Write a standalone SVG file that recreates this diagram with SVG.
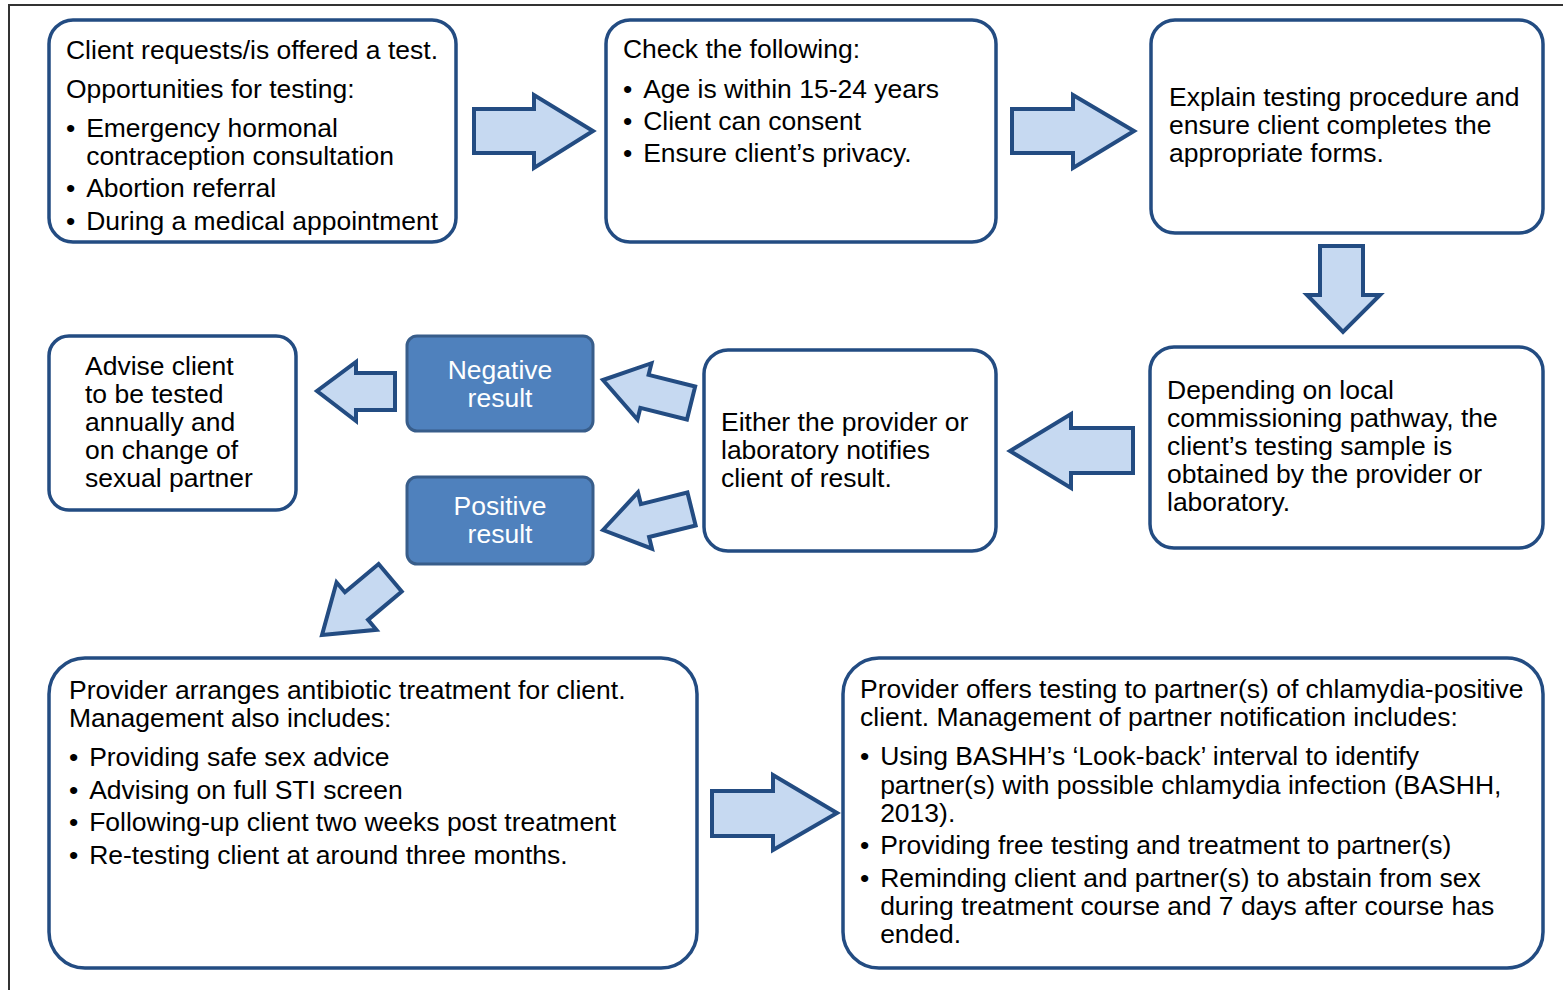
<svg xmlns="http://www.w3.org/2000/svg" width="1563" height="990" viewBox="0 0 1563 990">
  <style>
    .box { fill: #ffffff; stroke: #234C82; stroke-width: 3.5; }
    .res { fill: #4F81BD; stroke: #385D8A; stroke-width: 3; }
    .arr { fill: #C6D9F1; stroke: #234C82; stroke-width: 4; stroke-linejoin: miter; }
    text { font-family: "Liberation Sans", Arial, sans-serif; font-size: 25px; fill: #000000; }
    .w { fill: #ffffff; text-anchor: middle; }
  </style>
  <rect width="1563" height="990" fill="#ffffff"/>
  <!-- page frame -->
  <path d="M9,990 V5 H1563" fill="none" stroke="#333333" stroke-width="2"/>

  <g id="n1">
    <rect class="box" x="49" y="20" width="407" height="222" rx="24"/>
    <g transform="translate(66,0) scale(1.06,1) translate(-66,0)">
      <text x="66" y="59">Client requests/is offered a test.</text>
      <text x="66" y="98">Opportunities for testing:</text>
      <text x="66" y="137">•</text><text x="85" y="137">Emergency hormonal</text>
      <text x="85" y="165">contraception consultation</text>
      <text x="66" y="197">•</text><text x="85" y="197">Abortion referral</text>
      <text x="66" y="230">•</text><text x="85" y="230">During a medical appointment</text>
    </g>
  </g>

  <g id="n2">
    <rect class="box" x="606" y="20" width="390" height="222" rx="24"/>
    <g transform="translate(623,0) scale(1.06,1) translate(-623,0)">
      <text x="623" y="58">Check the following:</text>
      <text x="623" y="98">•</text><text x="642" y="98">Age is within 15-24 years</text>
      <text x="623" y="130">•</text><text x="642" y="130">Client can consent</text>
      <text x="623" y="162">•</text><text x="642" y="162">Ensure client’s privacy.</text>
    </g>
  </g>

  <g id="n3">
    <rect class="box" x="1151" y="20" width="392" height="213" rx="24"/>
    <g transform="translate(1169,0) scale(1.06,1) translate(-1169,0)">
      <text x="1169" y="106">Explain testing procedure and</text>
      <text x="1169" y="134">ensure client completes the</text>
      <text x="1169" y="162">appropriate forms.</text>
    </g>
  </g>

  <g id="n4">
    <rect class="box" x="1150" y="347" width="393" height="201" rx="24"/>
    <g transform="translate(1167,0) scale(1.06,1) translate(-1167,0)">
      <text x="1167" y="399">Depending on local</text>
      <text x="1167" y="427">commissioning pathway, the</text>
      <text x="1167" y="455">client’s testing sample is</text>
      <text x="1167" y="483">obtained by the provider or</text>
      <text x="1167" y="511">laboratory.</text>
    </g>
  </g>

  <g id="n5">
    <rect class="box" x="704" y="350" width="292" height="201" rx="24"/>
    <g transform="translate(721,0) scale(1.06,1) translate(-721,0)">
      <text x="721" y="431">Either the provider or</text>
      <text x="721" y="459">laboratory notifies</text>
      <text x="721" y="487">client of result.</text>
    </g>
  </g>

  <g id="neg">
    <rect class="res" x="407" y="336" width="186" height="95" rx="10"/>
    <g transform="translate(500,0) scale(1.06,1) translate(-500,0)">
      <text class="w" x="500" y="379">Negative</text>
      <text class="w" x="500" y="407">result</text>
    </g>
  </g>

  <g id="pos">
    <rect class="res" x="407" y="477" width="186" height="87" rx="10"/>
    <g transform="translate(500,0) scale(1.06,1) translate(-500,0)">
      <text class="w" x="500" y="515">Positive</text>
      <text class="w" x="500" y="543">result</text>
    </g>
  </g>

  <g id="advise">
    <rect class="box" x="49" y="336" width="247" height="174" rx="20"/>
    <g transform="translate(85,0) scale(1.06,1) translate(-85,0)">
      <text x="85" y="375">Advise client</text>
      <text x="85" y="403">to be tested</text>
      <text x="85" y="431">annually and</text>
      <text x="85" y="459">on change of</text>
      <text x="85" y="487">sexual partner</text>
    </g>
  </g>

  <g id="n7">
    <rect class="box" x="49" y="658" width="648" height="310" rx="36"/>
    <g transform="translate(69,0) scale(1.06,1) translate(-69,0)">
      <text x="69" y="699">Provider arranges antibiotic treatment for client.</text>
      <text x="69" y="727">Management also includes:</text>
      <text x="69" y="766">•</text><text x="88" y="766">Providing safe sex advice</text>
      <text x="69" y="799">•</text><text x="88" y="799">Advising on full STI screen</text>
      <text x="69" y="831">•</text><text x="88" y="831">Following-up client two weeks post treatment</text>
      <text x="69" y="864">•</text><text x="88" y="864">Re-testing client at around three months.</text>
    </g>
  </g>

  <g id="n8">
    <rect class="box" x="843" y="658" width="700" height="310" rx="36"/>
    <g transform="translate(860,0) scale(1.06,1) translate(-860,0)">
      <text x="860" y="698">Provider offers testing to partner(s) of chlamydia-positive</text>
      <text x="860" y="726">client. Management of partner notification includes:</text>
      <text x="860" y="765">•</text><text x="879" y="765">Using BASHH’s ‘Look-back’ interval to identify</text>
      <text x="879" y="794">partner(s) with possible chlamydia infection (BASHH,</text>
      <text x="879" y="822">2013).</text>
      <text x="860" y="854">•</text><text x="879" y="854">Providing free testing and treatment to partner(s)</text>
      <text x="860" y="887">•</text><text x="879" y="887">Reminding client and partner(s) to abstain from sex</text>
      <text x="879" y="915">during treatment course and 7 days after course has</text>
      <text x="879" y="943">ended.</text>
    </g>
  </g>

  <g id="connectors">
    <!-- block arrows between steps -->
    <path class="arr" d="M474,109 H534 V95 L593,131 L534,168 V153 H474 Z"/>
    <path class="arr" d="M1012,109 H1073 V95 L1134,131 L1073,168 V153 H1012 Z"/>
    <path class="arr" d="M1320,246 H1363 V295 H1380 L1343,332 L1307,295 H1320 Z"/>
    <path class="arr" d="M1133,428 H1071 V414 L1010,451 L1071,488 V473 H1133 Z"/>
    <path class="arr" d="M395,373 H356 V362 L317,391 L356,421 V410 H395 Z"/>
    <!-- angled arrows from the notification step -->
    <path class="arr" transform="translate(603,380) rotate(14)" d="M0,0 L43,-28 V-16 H91 V18 H43 V30 Z"/>
    <path class="arr" transform="translate(603,530) rotate(-14)" d="M0,0 L43,-28 V-16 H91 V18 H43 V30 Z"/>
    <path class="arr" transform="translate(322,635) rotate(-40)" d="M0,0 L45,-31 V-18 H89 V18 H45 V31 Z"/>
    <path class="arr" d="M712,791 H773 V775 L837,813 L773,850 V836 H712 Z"/>
  </g>
</svg>
